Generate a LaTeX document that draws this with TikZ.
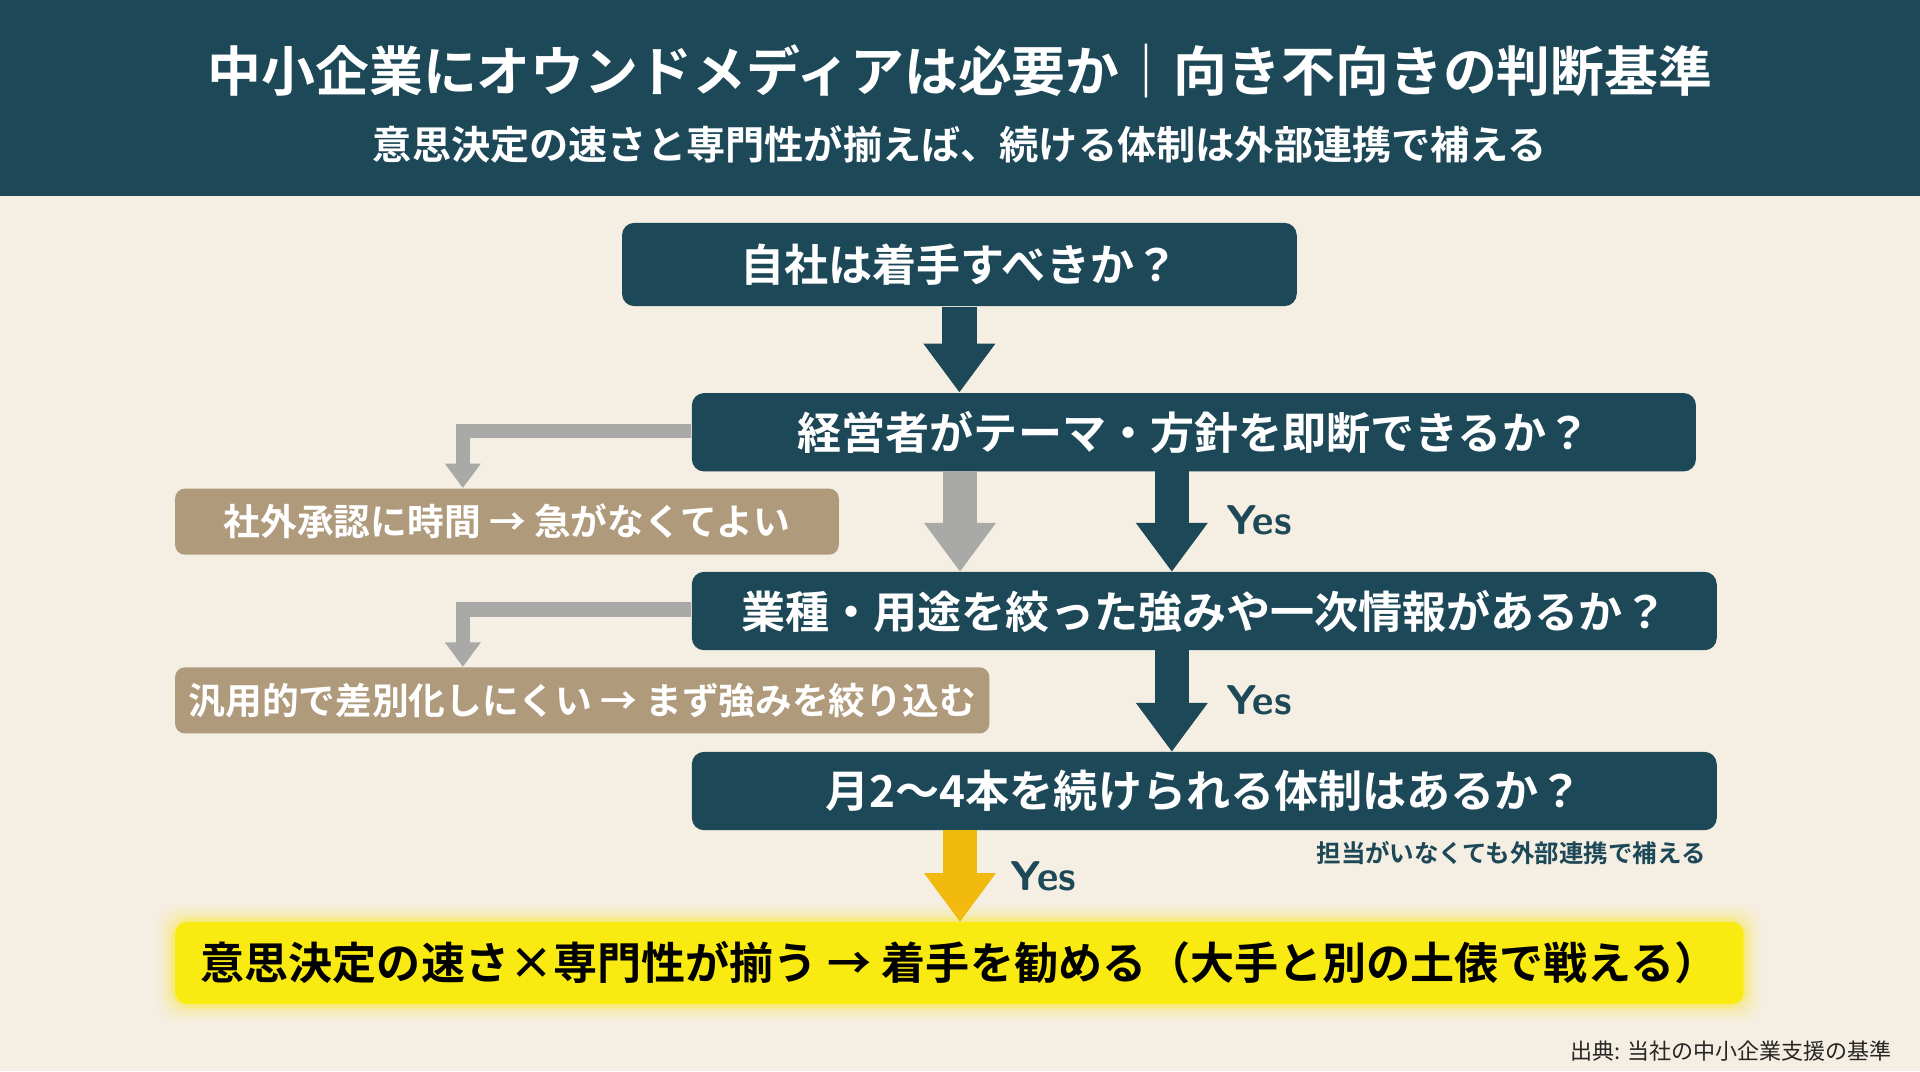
\documentclass[tikz,border=0pt]{standalone}
\usepackage{fontspec}
\setmainfont{Noto Sans CJK JP}[BoldFont={* Bold}]
\usepackage{tikz}
\usetikzlibrary{arrows.meta,positioning}
\definecolor{teal}{HTML}{1C4858}
\definecolor{cream}{HTML}{F5EEE3}
\definecolor{tan}{HTML}{B09A7C}
\definecolor{grayarr}{HTML}{A9A9A7}
\definecolor{gold}{HTML}{F2B90F}
\definecolor{lemon}{HTML}{F9EA12}
\begin{document}
\begin{tikzpicture}[
			x=0.5pt, y=-0.5pt,
			every node/.style={font=\bfseries},
			qbox/.style={fill=teal, rounded corners=5pt, text=white, font=\bfseries\fontsize{18}{20}\selectfont, inner sep=0pt},
			nobox/.style={fill=tan, rounded corners=4pt, text=white, font=\bfseries\fontsize{15}{17}\selectfont, inner sep=0pt},
			yesarr/.style={teal, line width=14pt, -{Triangle[width=28pt,length=20pt]}},
			noarr/.style={grayarr, line width=6pt, -{Triangle[width=14pt,length=10pt]}},
			yes/.style={text=teal, font=\sffamily\bfseries\fontsize{17}{19}\selectfont}
			]

			\fill[cream] (0,0) rectangle (1568,875);
			\useasboundingbox (0,0) rectangle (1568,875);
			\fill[teal] (0,0) rectangle (1568,160);

			\node[text=white, font=\bfseries\fontsize{22}{24}\selectfont] (title) at (784,58) {中小企業にオウンドメディアは必要か｜向き不向きの判断基準};
			\node[text=white, font=\bfseries\fontsize{16}{18}\selectfont] (subtitle) at (784,118) {意思決定の速さと専門性が揃えば、続ける体制は外部連携で補える};

			% questions
			\node[qbox, minimum width=275.5pt, minimum height=34pt] (start) at (783.5,216) {自社は着手すべきか？};
			\node[qbox, minimum width=410pt, minimum height=32pt] (q1) at (975,353) {経営者がテーマ・方針を即断できるか？};
			\node[qbox, minimum width=418.5pt, minimum height=32pt] (q2) at (983.5,499) {業種・用途を絞った強みや一次情報があるか？};
			\node[qbox, minimum width=418.5pt, minimum height=32pt] (q3) at (983.5,646) {月2〜4本を続けられる体制はあるか？};

			% no branches
			\node[nobox, minimum width=271pt, minimum height=27pt] (no1) at (414,426) {社外承認に時間 → 急がなくてよい};
			\node[nobox, minimum width=332.5pt, minimum height=27pt] (no2) at (475.5,572) {汎用的で差別化しにくい → まず強みを絞り込む};

			% result
			\foreach \g/\o in {14/0.06,10/0.1,6/0.15,3/0.25}
				\fill[lemon, opacity=\o, rounded corners=8pt] (143-\g,753-\g) rectangle (1424+\g,820+\g);
			\node[fill=lemon, rounded corners=5pt, minimum width=640.5pt, minimum height=33.5pt, inner sep=0pt, font=\bfseries\fontsize{18}{20}\selectfont] (result) at (783.5,786.5) {意思決定の速さ×専門性が揃う → 着手を勧める（大手と別の土俵で戦える）};

			\coordinate (e1) at (378,352);
			\coordinate (e2) at (378,498);
			\coordinate (s1) at (784,385);
			\coordinate (s1b) at (784,467);
			\coordinate (y1) at (957,385);
			\coordinate (y1b) at (957,467);
			\coordinate (y2) at (957,531);
			\coordinate (y2b) at (957,614);
			\coordinate (y3) at (784,678);
			\coordinate (y3b) at (784,753);

			\draw[yesarr] (start.south) -- (q1.north -| start.south);
			\draw[noarr] (q1.west |- e1) -- (e1) -- (no1.north -| e1);
			\draw[noarr] (q2.west |- e2) -- (e2) -- (no2.north -| e2);
			\draw[grayarr, line width=14pt, -{Triangle[width=28pt,length=20pt]}] (s1) -- (s1b);
			\draw[yesarr] (y1) -- (y1b);
			\draw[yesarr] (y2) -- (y2b);
			\draw[gold, line width=14pt, -{Triangle[width=28pt,length=20pt]}] (y3) -- (y3b);

			\node[yes] (yes1) at (1028,425) {Yes};
			\node[yes] (yes2) at (1028,572) {Yes};
			\node[yes] (yes3) at (852,716) {Yes};

			\node[text=teal, anchor=east, font=\bfseries\fontsize{10}{12}\selectfont] (note) at (1400,697) {担当がいなくても外部連携で補える};
			\node[text=black!85, anchor=east, font=\fontsize{9}{11}\selectfont] (source) at (1552,858) {出典: 当社の中小企業支援の基準};

			\end{tikzpicture}
\end{document}
